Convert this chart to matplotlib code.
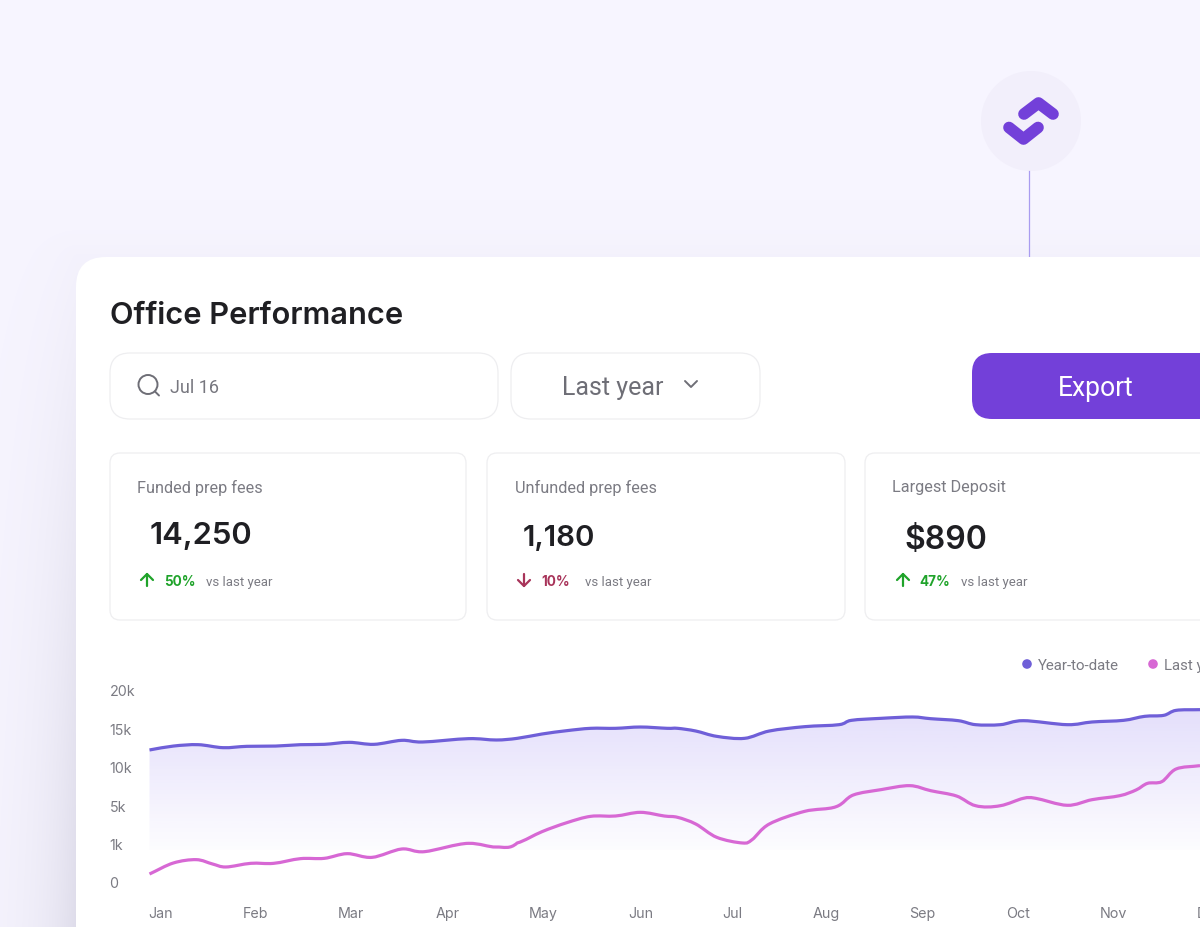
"""Office Performance dashboard card, drawn in pixel coordinates plus one chart axes."""

import numpy as np
import matplotlib

matplotlib.use("Agg")
import matplotlib.pyplot as plt
from matplotlib.patches import Circle, FancyBboxPatch, PathPatch
from matplotlib.path import Path

plt.rcParams["font.family"] = ["Inter", "DejaVu Sans"]

W, H = 1200, 928

MONTHS = ["Jan", "Feb", "Mar", "Apr", "May", "Jun", "Jul", "Aug", "Sep", "Oct", "Nov", "Dec"]
MONTH_POS = [0.01, 1.0, 2.0, 3.01, 4.01, 5.03, 5.99, 6.98, 7.98, 8.99, 9.98, 11.0]
Y_TICKS = [0, 1000, 5000, 10000, 15000, 20000]
Y_LABELS = ["0", "1k", "5k", "10k", "15k", "20k"]

# x is in months after the Jan label
ytd_x = [-0.11, 0.14, 0.40, 0.66, 0.91, 1.21, 1.47, 1.72, 1.98, 2.24, 2.53, 2.75, 3.23, 3.52,
         3.74, 4.00, 4.26, 4.51, 4.77, 5.03, 5.31, 5.42, 5.61, 5.83, 6.12, 6.38, 6.75, 7.11,
         7.24, 7.55, 7.88, 8.07, 8.36, 8.54, 8.80, 9.04, 9.50, 9.76, 10.09, 10.31, 10.51,
         10.64, 10.89]
ytd_y = [12190, 12700, 12880, 12490, 12665, 12700, 12880, 12925, 13185, 12925, 13445, 13230,
         13665, 13490, 13705, 14270, 14705, 15010, 15010, 15180, 15010, 15010, 14660, 13965,
         13705, 14660, 15225, 15485, 16050, 16310, 16485, 16265, 16005, 15485, 15485, 16005,
         15485, 15835, 16050, 16570, 16700, 17350, 17440]

last_x = [-0.11, 0.14, 0.38, 0.55, 0.69, 0.95, 1.19, 1.47, 1.72, 1.96, 2.22, 2.53, 2.77, 3.23,
          3.52, 3.74, 4.00, 4.26, 4.51, 4.77, 5.03, 5.28, 5.42, 5.61, 5.83, 6.10, 6.20, 6.38,
          6.75, 7.08, 7.26, 7.55, 7.85, 8.07, 8.34, 8.54, 8.80, 9.04, 9.17, 9.50, 9.76, 10.05,
          10.22, 10.34, 10.49, 10.64, 10.89]
last_y = [208, 495, 582, 469, 391, 486, 486, 608, 616, 738, 642, 859, 790, 1028, 911, 1063,
          2243, 3180, 3840, 3875, 4257, 3875, 3736, 3040, 1653, 1063, 1410, 3040, 4360, 4847,
          6330, 7025, 7545, 6890, 6200, 4950, 4950, 5895, 5895, 4990, 5720, 6240, 6980, 7845,
          8065, 9715, 10150]

PURPLE = "#7340d9"
LINE_YTD = "#6f5fd8"
LINE_LAST = "#d768d4"
GREY = "#7b7b83"
DARK = "#1f1f23"
BORDER = "#eeeef0"
GREEN = "#1fa32a"
RED = "#a8345a"
TIGHT = ["Roboto", "DejaVu Sans"]
INTER = ["Inter", "DejaVu Sans"]

fig = plt.figure(figsize=(W / 100, H / 100), dpi=100)
bg = fig.add_axes([0, 0, 1, 1], zorder=0)
bg.set_xlim(0, W)
bg.set_ylim(H, 0)
bg.axis("off")

# page background with the soft shadow left of the card
yy, xx = np.mgrid[0:H, 0:W]
dist = np.hypot(np.clip(76 - xx, 0, None), np.clip(257 - yy, 0, None))
shade = np.exp(-dist / 38) * np.clip((yy - 200) / 728, 0, 1) ** 0.8
base = np.array([247, 245, 255]) / 255
dark = np.array([222, 220, 234]) / 255
page = base + (dark - base) * shade[..., None]
bg.imshow(page, extent=(0, W, H, 0), aspect="auto", zorder=0, interpolation="bilinear")
bg.set_xlim(0, W)
bg.set_ylim(H, 0)


def rbox(x0, y0, x1, y1, r, face="white", edge="none", lw=0.9, z=2):
    bg.add_patch(FancyBboxPatch((x0, y0 + 1), x1 - x0, y1 - y0,
                                boxstyle=f"round,pad=0,rounding_size={r}",
                                facecolor=face, edgecolor=edge, linewidth=lw, zorder=z))


def label(x, y, s, px, color=GREY, weight="normal", ha="left", family=None):
    return bg.text(x, y, s, fontsize=px * 0.72, color=color, weight=weight, ha=ha,
                   va="center_baseline", zorder=5, family=family or TIGHT)


def stroke(xs, ys, color, lw, z=5):
    bg.plot(xs, ys, color=color, lw=lw, solid_capstyle="round", solid_joinstyle="round", zorder=z)


def arrow(x, up, color):
    tip, tail = (575, 587) if up else (587, 575)
    wing = tip + 6 if up else tip - 6
    stroke([x, x], [tail, tip], color, 1.6)
    stroke([x - 6, x, x + 6], [wing, tip, wing], color, 1.6)


def smooth_path(xs, ys):
    # Catmull-Rom style bezier through the read points, no new data points
    pts = np.column_stack([xs, ys])
    tang = np.gradient(pts, axis=0)
    verts, codes = [pts[0]], [Path.MOVETO]
    for i in range(len(pts) - 1):
        verts += [pts[i] + tang[i] / 3, pts[i + 1] - tang[i + 1] / 3, pts[i + 1]]
        codes += [Path.CURVE4] * 3
    return Path(verts, codes)


# logo and connector
bg.add_patch(Circle((1031, 122), 50, facecolor="#f2effb", edgecolor="none", zorder=1))
bg.plot([1029.2, 1029.2], [172, 258], color="#a99cf0", lw=0.9, zorder=1)
stroke([1024, 1038.5, 1053], [115, 104, 115], PURPLE, 8.4)
stroke([1009, 1023.5, 1038], [128.5, 140, 128.5], PURPLE, 8.4)

# card
rbox(76, 257, 1300, 1100, 30)
label(110, 313, "Office Performance", 30.8, DARK, weight="semibold", family=INTER)

# controls
rbox(110, 353, 498, 419, 20, edge=BORDER)
rbox(511, 353, 760, 419, 20, edge=BORDER)
rbox(972, 353, 1300, 419, 20, face=PURPLE)
bg.add_patch(Circle((148, 385.5), 9.5, facecolor="none", edgecolor="#6e6e76", lw=1.4, zorder=5))
stroke([155, 159], [392.5, 396.5], "#6e6e76", 1.4)
label(170, 386, "Jul 16", 18, "#77777f")
label(562, 386, "Last year", 25, "#6e6e76")
stroke([685, 691, 697], [382, 388, 382], "#6e6e76", 1.4)
label(1096, 386, "Export", 26.5, "white", ha="center")

# stat cards
rbox(110, 453, 466, 620, 10, edge=BORDER)
rbox(487, 453, 845, 620, 10, edge=BORDER)
rbox(865, 453, 1300, 620, 10, edge=BORDER)
label(137, 486.5, "Funded prep fees", 16.2)
label(515, 486.5, "Unfunded prep fees", 16.2)
label(892, 486.5, "Largest Deposit", 16.2)
label(150, 533, "14,250", 31, DARK, weight="semibold", family=INTER)
label(523, 536, "1,180", 29.5, DARK, weight="semibold", family=INTER)
label(904, 537, "$890", 32, DARK, weight="semibold", family=INTER)
arrow(147, True, GREEN)
arrow(524, False, RED)
arrow(903, True, GREEN)
label(164, 581, "50%", 13.5, GREEN, weight="bold", family=INTER)
label(541, 581, "10%", 13.5, RED, weight="bold", family=INTER)
label(919, 581, "47%", 13.5, GREEN, weight="bold", family=INTER)
label(206, 581, "vs last year", 13.2)
label(585, 581, "vs last year", 13.2)
label(961, 581, "vs last year", 13.2)

# legend
bg.add_patch(Circle((1027, 665), 4.8, facecolor=LINE_YTD, edgecolor="none", zorder=5))
bg.add_patch(Circle((1153, 665), 4.8, facecolor=LINE_LAST, edgecolor="none", zorder=5))
label(1038, 665, "Year-to-date", 15)
label(1164, 665, "Last year", 15)

# chart axes: left edge at the line start, right edge runs past the crop
left, right, top, bottom = 149, 1300, 691, 883
ax = fig.add_axes([left / W, 1 - bottom / H, (right - left) / W, (bottom - top) / H], zorder=1)
ax.patch.set_alpha(0)
ax.set_yscale("function", functions=(
    lambda v: np.interp(v, Y_TICKS, np.arange(len(Y_TICKS))),
    lambda t: np.interp(t, np.arange(len(Y_TICKS)), Y_TICKS),
))
ax.set_xlim((left - 160) / 95.5, (right - 160) / 95.5)
ax.set_ylim(0, 20000)
for side in ax.spines.values():
    side.set_visible(False)
ax.set_xticks(MONTH_POS, MONTHS)
ax.set_yticks(Y_TICKS, Y_LABELS)
ax.minorticks_off()
ax.tick_params(axis="both", length=0, labelsize=10.3, labelcolor=GREY)
ax.tick_params(axis="y", pad=28.5)
ax.tick_params(axis="x", pad=17)
for tick in ax.get_yticklabels():
    tick.set_ha("left")

# gradient under the year-to-date line, clipped to the area below it
area = ax.fill_between(ytd_x, ytd_y, 0, color="none")
rows = np.linspace(0, 1, 200)[:, None]
tint = np.zeros((200, 1, 4))
tint[..., :3] = np.array([100, 70, 235]) / 255
tint[..., 3] = 0.015 + 0.17 * (1 - rows)
grad = bg.imshow(tint, extent=(149, 1200, 851, 700), aspect="auto", zorder=3)
grad.set_clip_path(area.get_paths()[0], transform=ax.transData)
bg.set_xlim(0, W)
bg.set_ylim(H, 0)

for xs, ys, colour in ((ytd_x, ytd_y, LINE_YTD), (last_x, last_y, LINE_LAST)):
    ax.add_patch(PathPatch(smooth_path(xs, ys), facecolor="none", edgecolor=colour, lw=2.3,
                           joinstyle="round", clip_on=False))

fig.savefig("out.png", dpi=100)
